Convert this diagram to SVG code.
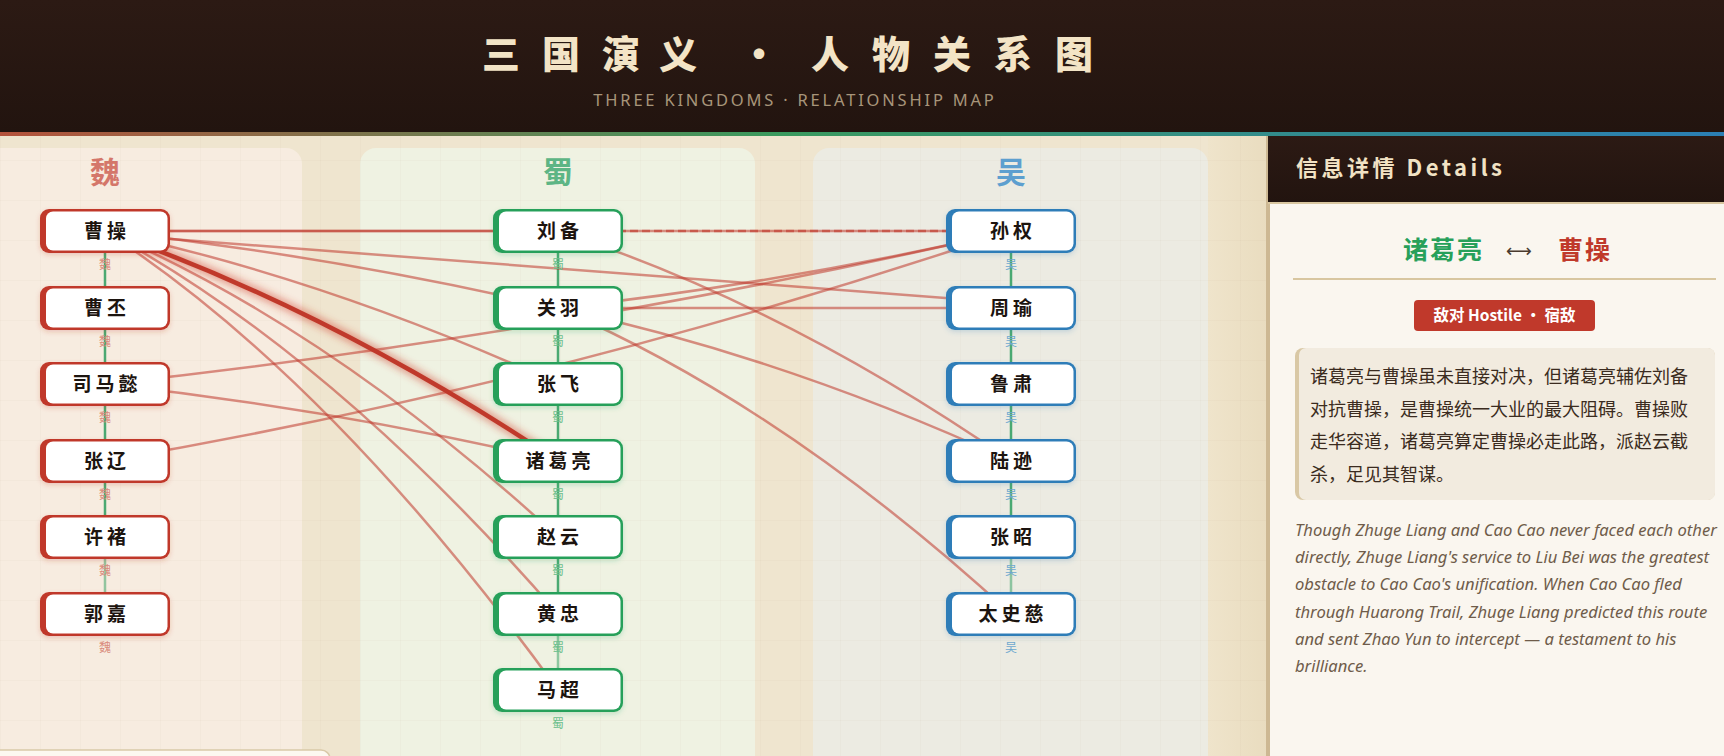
<svg xmlns="http://www.w3.org/2000/svg" width="1724" height="756" viewBox="0 0 1724 756">
<defs>
  <linearGradient id="hdr" x1="0" y1="0" x2="0" y2="1">
    <stop offset="0" stop-color="#2c1a14"/><stop offset="1" stop-color="#22140f"/>
  </linearGradient>
  <linearGradient id="bar" x1="0" y1="0" x2="1" y2="0">
    <stop offset="0" stop-color="#b5533c"/><stop offset="0.45" stop-color="#3a9a5e"/><stop offset="1" stop-color="#2b7fb5"/>
  </linearGradient>
  <linearGradient id="gap" x1="0" y1="0" x2="1" y2="0">
    <stop offset="0" stop-color="#efe4cb"/><stop offset="1" stop-color="#e9dcbf"/>
  </linearGradient>
  <pattern id="grid" width="40" height="40" patternUnits="userSpaceOnUse">
    <path d="M40 0H0V40" fill="none" stroke="#8a6a40" stroke-opacity="0.06" stroke-width="1"/>
  </pattern>
  <filter id="glow" x="-20%" y="-20%" width="140%" height="140%">
    <feGaussianBlur stdDeviation="3.5"/>
  </filter>
  <filter id="shW" x="-10%" y="-20%" width="120%" height="150%">
    <feDropShadow dx="0" dy="2" stdDeviation="2.5" flood-color="#c0392b" flood-opacity="0.22"/>
  </filter>
  <filter id="shS" x="-10%" y="-20%" width="120%" height="150%">
    <feDropShadow dx="0" dy="2" stdDeviation="2.5" flood-color="#27a05a" flood-opacity="0.22"/>
  </filter>
  <filter id="shU" x="-10%" y="-20%" width="120%" height="150%">
    <feDropShadow dx="0" dy="2" stdDeviation="2.5" flood-color="#2e7db8" flood-opacity="0.22"/>
  </filter>
</defs>
<style>
  .conn{fill:none;stroke:#c0392b;stroke-opacity:.55;stroke-width:2.5}
  .dash{stroke-dasharray:8 4;stroke-opacity:.6}
  .ally{stroke:#2e9e5e;stroke-width:2.5;stroke-opacity:.85}
  .ally.last{stroke-opacity:.5}
  .nm{font-family:'Noto Sans CJK SC',sans-serif;font-size:19px;font-weight:700;fill:#1c140f;text-anchor:middle;letter-spacing:4px}
  .sub{font-family:'Noto Sans CJK SC',sans-serif;font-size:12px;text-anchor:middle}
  .wei{fill:#c0392b}
  .shu{fill:#27a05a}
  .wu{fill:#2e7db8}
  .wsub{fill:#d98a7a}
  .ssub{fill:#6cbf8c}
  .usub{fill:#6ea8cf}
  .inner{fill:#ffffff}
  .col{font-family:'Noto Sans CJK SC',sans-serif;font-size:30px;font-weight:700;text-anchor:middle}
  .zh{font-family:'Noto Sans CJK SC',sans-serif;font-size:18px;fill:#3b2b20}
  .en{font-family:'Noto Sans','Open Sans',sans-serif;font-size:16.6px;font-style:italic;fill:#6f5c4a}
</style>

<!-- background -->
<rect x="0" y="0" width="1724" height="756" fill="#efe5cf"/>
<rect x="1208" y="136" width="60" height="620" fill="url(#gap)"/>
<rect x="-20" y="148" width="322" height="640" rx="16" fill="#f7ece0"/>
<rect x="360" y="148" width="395" height="640" rx="16" fill="#eff2e2"/>
<rect x="813" y="148" width="395" height="640" rx="16" fill="#ecebe2"/>
<rect x="0" y="136" width="1266" height="620" fill="url(#grid)"/>

<!-- header -->
<g id="header">
  <rect x="0" y="0" width="1724" height="132" fill="url(#hdr)"/>
  <rect x="0" y="132" width="1724" height="4" fill="url(#bar)"/>
  <text font-family="'Noto Sans CJK SC',sans-serif" font-size="38" font-weight="900" fill="#f3e4c6" text-anchor="middle" x="501 561 621 678 759 830 891 952 1013 1074" y="68">三国演义·人物关系图</text>
  <text x="795" y="106" font-family="'Noto Sans','Open Sans',sans-serif" font-size="16.5" fill="#a8957a" text-anchor="middle" letter-spacing="2.8">THREE KINGDOMS · RELATIONSHIP MAP</text>
</g>

<!-- column headings -->
<g id="columns">
  <text class="col" x="105" y="183" fill="#d4776a">魏</text>
  <text class="col" x="558" y="183" fill="#5db585">蜀</text>
  <text class="col" x="1011" y="183" fill="#5d9fcf">吴</text>
</g>

<!-- connectors -->
<g id="connectors">
  <line class="ally" x1="105" y1="253" x2="105" y2="286"/>
  <line class="ally" x1="105" y1="330" x2="105" y2="362"/>
  <line class="ally" x1="105" y1="406" x2="105" y2="439"/>
  <line class="ally" x1="105" y1="483" x2="105" y2="515"/>
  <line class="ally last" x1="105" y1="559" x2="105" y2="592"/>
  <line class="ally" x1="558" y1="253" x2="558" y2="286"/>
  <line class="ally" x1="558" y1="330" x2="558" y2="362"/>
  <line class="ally" x1="558" y1="406" x2="558" y2="439"/>
  <line class="ally" x1="558" y1="483" x2="558" y2="515"/>
  <line class="ally" x1="558" y1="559" x2="558" y2="592"/>
  <line class="ally last" x1="558" y1="636" x2="558" y2="668"/>
  <line class="ally" x1="1011" y1="253" x2="1011" y2="286"/>
  <line class="ally" x1="1011" y1="330" x2="1011" y2="362"/>
  <line class="ally" x1="1011" y1="406" x2="1011" y2="439"/>
  <line class="ally" x1="1011" y1="483" x2="1011" y2="515"/>
  <line class="ally last" x1="1011" y1="559" x2="1011" y2="592"/>

  <path class="conn" d="M105 231 L558 231"/>
  <path class="conn" d="M105 231 L1011 231"/>
  <path class="conn dash" d="M558 231 L1011 231"/>
  <path class="conn" d="M105 234 L1011 303"/>
  <path class="conn" d="M105 231 Q331.5 255.6 558 308"/>
  <path class="conn" d="M105 231 Q331.5 280 558 384"/>
  <path class="conn" d="M105 231 Q331.5 329 558 537"/>
  <path class="conn" d="M105 231 Q331.5 353.5 558 614"/>
  <path class="conn" d="M105 231 Q331.5 378 558 690"/>
  <path class="conn" d="M105 384 Q558 335 1011 231"/>
  <path class="conn" d="M105 384 Q331.5 408.6 558 461"/>
  <path class="conn" d="M105 461 Q558 384 1011 231"/>
  <path class="conn" d="M558 231 Q784.5 304.6 1011 461"/>
  <path class="conn" d="M558 308 Q784.5 283.4 1011 231"/>
  <path class="conn" d="M558 308 L1011 308"/>
  <path class="conn" d="M558 308 Q784.5 357 1011 461"/>
  <path class="conn" d="M558 308 Q784.5 406 1011 614"/>
  <path d="M105 231 Q331.5 310 558 461" fill="none" stroke="#d0402f" stroke-width="10" stroke-opacity="0.45" filter="url(#glow)"/>
  <path d="M105 231 Q331.5 310 558 461" fill="none" stroke="#c0392b" stroke-width="4.5"/>
</g>

<!-- Wei nodes -->
<g id="n-caocao"><rect class="wei" x="40" y="209" width="130" height="44" rx="9" filter="url(#shW)"/><rect class="inner" x="46" y="211.5" width="121.5" height="39" rx="7"/><text class="nm" x="107" y="238">曹操</text><text class="sub wsub" x="105" y="269">魏</text></g>
<g id="n-caopi"><rect class="wei" x="40" y="286" width="130" height="44" rx="9" filter="url(#shW)"/><rect class="inner" x="46" y="288.5" width="121.5" height="39" rx="7"/><text class="nm" x="107" y="315">曹丕</text><text class="sub wsub" x="105" y="346">魏</text></g>
<g id="n-simayi"><rect class="wei" x="40" y="362" width="130" height="44" rx="9" filter="url(#shW)"/><rect class="inner" x="46" y="364.5" width="121.5" height="39" rx="7"/><text class="nm" x="107" y="391">司马懿</text><text class="sub wsub" x="105" y="422">魏</text></g>
<g id="n-zhangliao"><rect class="wei" x="40" y="439" width="130" height="44" rx="9" filter="url(#shW)"/><rect class="inner" x="46" y="441.5" width="121.5" height="39" rx="7"/><text class="nm" x="107" y="468">张辽</text><text class="sub wsub" x="105" y="499">魏</text></g>
<g id="n-xuchu"><rect class="wei" x="40" y="515" width="130" height="44" rx="9" filter="url(#shW)"/><rect class="inner" x="46" y="517.5" width="121.5" height="39" rx="7"/><text class="nm" x="107" y="544">许褚</text><text class="sub wsub" x="105" y="575">魏</text></g>
<g id="n-guojia"><rect class="wei" x="40" y="592" width="130" height="44" rx="9" filter="url(#shW)"/><rect class="inner" x="46" y="594.5" width="121.5" height="39" rx="7"/><text class="nm" x="107" y="621">郭嘉</text><text class="sub wsub" x="105" y="652">魏</text></g>

<!-- Shu nodes -->
<g id="n-liubei"><rect class="shu" x="493" y="209" width="130" height="44" rx="9" filter="url(#shS)"/><rect class="inner" x="499" y="211.5" width="121.5" height="39" rx="7"/><text class="nm" x="560" y="238">刘备</text><text class="sub ssub" x="558" y="269">蜀</text></g>
<g id="n-guanyu"><rect class="shu" x="493" y="286" width="130" height="44" rx="9" filter="url(#shS)"/><rect class="inner" x="499" y="288.5" width="121.5" height="39" rx="7"/><text class="nm" x="560" y="315">关羽</text><text class="sub ssub" x="558" y="346">蜀</text></g>
<g id="n-zhangfei"><rect class="shu" x="493" y="362" width="130" height="44" rx="9" filter="url(#shS)"/><rect class="inner" x="499" y="364.5" width="121.5" height="39" rx="7"/><text class="nm" x="560" y="391">张飞</text><text class="sub ssub" x="558" y="422">蜀</text></g>
<g id="n-zhugeliang"><rect class="shu" x="493" y="439" width="130" height="44" rx="9" filter="url(#shS)"/><rect class="inner" x="499" y="441.5" width="121.5" height="39" rx="7"/><text class="nm" x="560" y="468">诸葛亮</text><text class="sub ssub" x="558" y="499">蜀</text></g>
<g id="n-zhaoyun"><rect class="shu" x="493" y="515" width="130" height="44" rx="9" filter="url(#shS)"/><rect class="inner" x="499" y="517.5" width="121.5" height="39" rx="7"/><text class="nm" x="560" y="544">赵云</text><text class="sub ssub" x="558" y="575">蜀</text></g>
<g id="n-huangzhong"><rect class="shu" x="493" y="592" width="130" height="44" rx="9" filter="url(#shS)"/><rect class="inner" x="499" y="594.5" width="121.5" height="39" rx="7"/><text class="nm" x="560" y="621">黄忠</text><text class="sub ssub" x="558" y="652">蜀</text></g>
<g id="n-machao"><rect class="shu" x="493" y="668" width="130" height="44" rx="9" filter="url(#shS)"/><rect class="inner" x="499" y="670.5" width="121.5" height="39" rx="7"/><text class="nm" x="560" y="697">马超</text><text class="sub ssub" x="558" y="728">蜀</text></g>

<!-- Wu nodes -->
<g id="n-sunquan"><rect class="wu" x="946" y="209" width="130" height="44" rx="9" filter="url(#shU)"/><rect class="inner" x="952" y="211.5" width="121.5" height="39" rx="7"/><text class="nm" x="1013" y="238">孙权</text><text class="sub usub" x="1011" y="269">吴</text></g>
<g id="n-zhouyu"><rect class="wu" x="946" y="286" width="130" height="44" rx="9" filter="url(#shU)"/><rect class="inner" x="952" y="288.5" width="121.5" height="39" rx="7"/><text class="nm" x="1013" y="315">周瑜</text><text class="sub usub" x="1011" y="346">吴</text></g>
<g id="n-lusu"><rect class="wu" x="946" y="362" width="130" height="44" rx="9" filter="url(#shU)"/><rect class="inner" x="952" y="364.5" width="121.5" height="39" rx="7"/><text class="nm" x="1013" y="391">鲁肃</text><text class="sub usub" x="1011" y="422">吴</text></g>
<g id="n-luxun"><rect class="wu" x="946" y="439" width="130" height="44" rx="9" filter="url(#shU)"/><rect class="inner" x="952" y="441.5" width="121.5" height="39" rx="7"/><text class="nm" x="1013" y="468">陆逊</text><text class="sub usub" x="1011" y="499">吴</text></g>
<g id="n-zhangzhao"><rect class="wu" x="946" y="515" width="130" height="44" rx="9" filter="url(#shU)"/><rect class="inner" x="952" y="517.5" width="121.5" height="39" rx="7"/><text class="nm" x="1013" y="544">张昭</text><text class="sub usub" x="1011" y="575">吴</text></g>
<g id="n-taishici"><rect class="wu" x="946" y="592" width="130" height="44" rx="9" filter="url(#shU)"/><rect class="inner" x="952" y="594.5" width="121.5" height="39" rx="7"/><text class="nm" x="1013" y="621">太史慈</text><text class="sub usub" x="1011" y="652">吴</text></g>

<!-- legend box (cut off) -->
<rect x="-10" y="750" width="340" height="60" rx="9" fill="#fcf8f0" stroke="#d9c9a8" stroke-width="1.5"/>

<!-- details panel -->
<g id="details">
  <rect x="1266" y="136" width="4" height="620" fill="#cdb893"/>
  <rect x="1270" y="136" width="454" height="620" fill="#faf6ef"/>
  <rect x="1268" y="136" width="456" height="66" fill="url(#hdr)"/>
  <rect x="1268" y="202" width="456" height="2" fill="#d8c6a0"/>
  <text x="1296" y="176" font-family="'Noto Sans CJK SC',sans-serif" font-size="22" font-weight="700" fill="#f1e2c4" letter-spacing="3.5">信息详情 Details</text>
  <text x="1403" y="259" font-family="'Noto Sans CJK SC',sans-serif" font-size="25" font-weight="700" fill="#27a05a" letter-spacing="2">诸葛亮</text>
  <text x="1519" y="257" font-family="'DejaVu Sans',sans-serif" font-size="18" fill="#4a3a2e" text-anchor="middle">⟷</text>
  <text x="1558" y="259" font-family="'Noto Sans CJK SC',sans-serif" font-size="25" font-weight="700" fill="#c0392b" letter-spacing="2">曹操</text>
  <rect x="1293" y="278" width="423" height="2" fill="#d8c6a0"/>
  <rect x="1414" y="300" width="181" height="31" rx="4" fill="#c0392b"/>
  <text x="1504.5" y="321" font-family="'Noto Sans CJK SC',sans-serif" font-size="15.5" font-weight="700" fill="#ffffff" text-anchor="middle">敌对 Hostile · 宿敌</text>
  <rect x="1295" y="348" width="420" height="152" rx="8" fill="#d9c8a5"/>
  <rect x="1299" y="348" width="416" height="152" rx="7" fill="#f2ebdf"/>
  <text class="zh" x="1310" y="383">诸葛亮与曹操虽未直接对决，但诸葛亮辅佐刘备</text>
  <text class="zh" x="1310" y="416">对抗曹操，是曹操统一大业的最大阻碍。曹操败</text>
  <text class="zh" x="1310" y="448">走华容道，诸葛亮算定曹操必走此路，派赵云截</text>
  <text class="zh" x="1310" y="481">杀，足见其智谋。</text>
  <text class="en" x="1295" y="536">Though Zhuge Liang and Cao Cao never faced each other</text>
  <text class="en" x="1295" y="563">directly, Zhuge Liang's service to Liu Bei was the greatest</text>
  <text class="en" x="1295" y="590">obstacle to Cao Cao's unification. When Cao Cao fled</text>
  <text class="en" x="1295" y="618">through Huarong Trail, Zhuge Liang predicted this route</text>
  <text class="en" x="1295" y="645">and sent Zhao Yun to intercept — a testament to his</text>
  <text class="en" x="1295" y="672">brilliance.</text>
</g>
</svg>
